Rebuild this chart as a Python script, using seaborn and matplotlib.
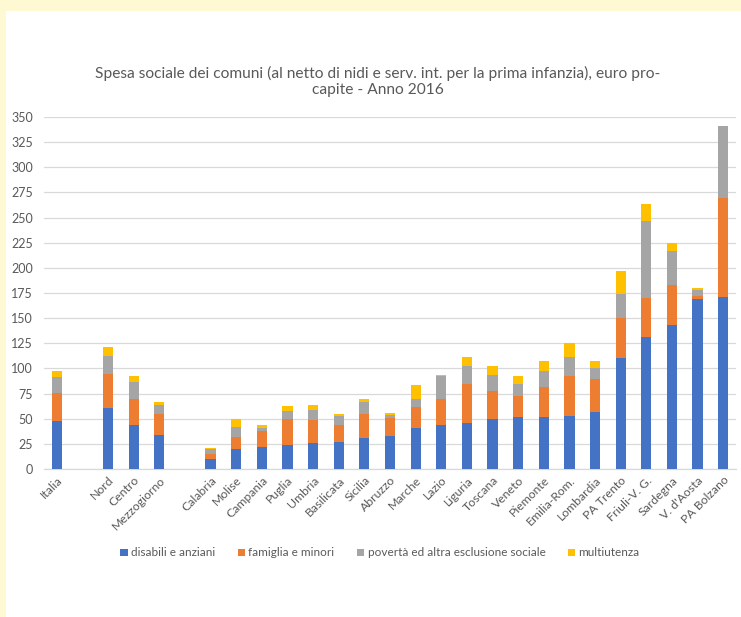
import matplotlib
matplotlib.use("Agg")
import matplotlib.pyplot as plt
import seaborn as sns
import pandas as pd
import numpy as np
from matplotlib.patches import Rectangle

categories = ["Italia", "", "Nord", "Centro", "Mezzogiorno", " ",
              "Calabria", "Molise", "Campania", "Puglia", "Umbria", "Basilicata",
              "Sicilia", "Abruzzo", "Marche", "Lazio", "Liguria", "Toscana",
              "Veneto", "Piemonte", "Emilia-Rom.", "Lombardia", "PA Trento",
              "Friuli-V. G.", "Sardegna", "V. d'Aosta", "PA Bolzano"]

disabili = [48, None, 61, 44, 34, None,
            10, 19.5, 22, 23.5, 26, 27, 31, 33, 41, 44, 46, 50, 52, 52, 53, 56.5,
            110, 131, 143, 169, 171]
famiglia = [27.5, None, 33, 25.5, 21, None,
            5, 12.5, 15.5, 26, 22.5, 17, 23.5, 17.5, 21, 26, 38.5, 27.5, 21, 29.5, 39, 33,
            40, 39, 39.5, 3.5, 98]
poverta = [15.5, None, 18, 17.5, 9, None,
           5, 9.5, 3.5, 8.5, 10.5, 8.5, 12.5, 3.5, 8, 22, 18, 15.5, 12, 15.5, 19, 11,
           24, 77, 34, 5.5, 72.5]
multiutenza = [6, None, 9, 5.5, 3, None,
               1, 8, 2.5, 4.5, 5, 2.5, 2.5, 2, 13.5, 1.5, 8.5, 9, 7.5, 10, 14, 7,
               23, 16, 8, 1.5, 0]

series_names = ["disabili e anziani", "famiglia e minori",
                "povertà ed altra esclusione sociale", "multiutenza"]
colors = ["#4472C4", "#ED7D31", "#A5A5A5", "#FFC000"]
yticks = list(range(0, 351, 25))

sns.set_theme(style="white")
plt.rcParams["font.family"] = ["Lato", "DejaVu Sans"]

df = pd.DataFrame({"cat": categories,
                   "s1": disabili, "s2": famiglia, "s3": poverta, "s4": multiutenza})
data = df.dropna().copy()
data["c1"] = data["s1"]
data["c2"] = data["c1"] + data["s2"]
data["c3"] = data["c2"] + data["s3"]
data["c4"] = data["c3"] + data["s4"]

fig = plt.figure(figsize=(7.41, 6.17), dpi=100, facecolor="#FEF9D3")
fig.patches.append(Rectangle((6 / 741, 0), 1, 1 - 11 / 617, transform=fig.transFigure,
                             facecolor="white", edgecolor="none", zorder=-10))
ax = fig.add_axes([44 / 741, 1 - 469 / 617, 692 / 741, 352 / 617])
ax.set_facecolor("none")
ax.set_zorder(5)

for col, color in zip(["c4", "c3", "c2", "c1"], colors[::-1]):
    sns.barplot(data=data, x="cat", y=col, order=categories, color=color,
                width=0.4, saturation=1, ax=ax, zorder=3, errorbar=None,
                linewidth=0)

ax.set_ylim(0, 350)
ax.set_xlim(-0.5, len(categories) - 0.5)
ax.set_yticks(yticks)
ax.set_yticklabels([str(v) for v in yticks], fontsize=9, color="#595959")
ax.yaxis.grid(True, color="#D9D9D9", linewidth=0.9, zorder=0)
ax.set_axisbelow(True)
for s in ["top", "right", "left"]:
    ax.spines[s].set_visible(False)
ax.spines["bottom"].set_color("#D9D9D9")
ax.spines["bottom"].set_linewidth(0.9)
ax.tick_params(axis="y", length=0, pad=8)
ax.tick_params(axis="x", length=0, pad=4)
ax.set_xticks(range(len(categories)))
ax.set_xticklabels(categories, rotation=45, ha="right", rotation_mode="anchor",
                   fontsize=8.8, color="#595959")
ax.set_xlabel("")
ax.set_ylabel("")

fig.text(378 / 741, 1 - 73 / 617,
         "Spesa sociale dei comuni (al netto di nidi e serv. int. per la prima infanzia), euro pro-",
         ha="center", va="center", fontsize=11.2, color="#595959")
fig.text(378 / 741, 1 - 90 / 617, "capite - Anno 2016",
         ha="center", va="center", fontsize=11.2, color="#595959")

handles = [Rectangle((0, 0), 1, 1, facecolor=c, edgecolor="none") for c in colors]
fig.legend(handles, series_names, loc="center", bbox_to_anchor=(380 / 741, 1 - 553 / 617),
           ncol=4, frameon=False, fontsize=8.5, handlelength=0.6, handleheight=0.6,
           handletextpad=0.3, columnspacing=1.9, labelcolor="#595959")

fig.savefig("out.png", dpi=100, facecolor=fig.get_facecolor())
